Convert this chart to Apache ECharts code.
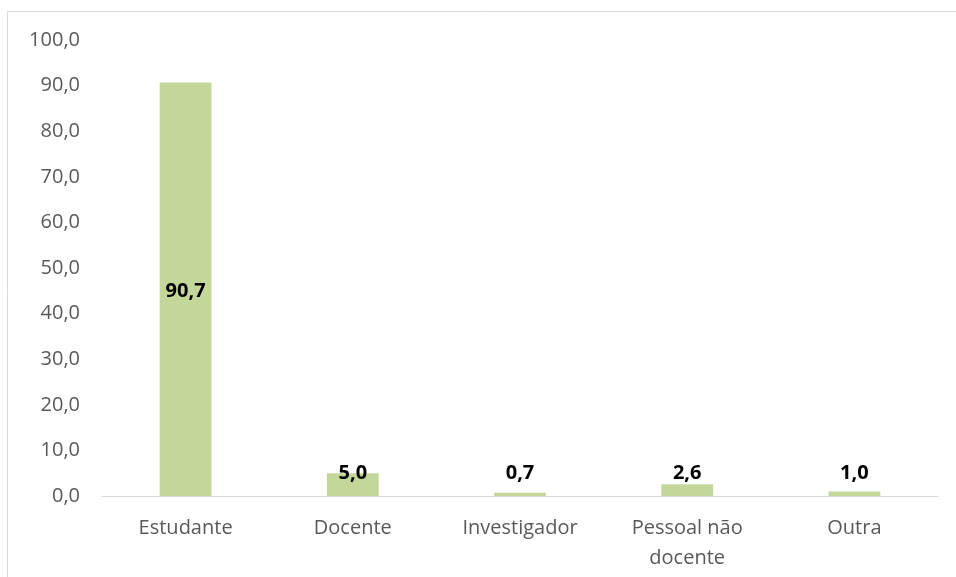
<!DOCTYPE html>
<html><head><meta charset="utf-8">
<script src="https://cdn.jsdelivr.net/npm/echarts@6/dist/echarts.min.js"></script>
<style>html,body{margin:0;padding:0;background:#fff;}#c{width:956px;height:577px;}</style>
</head><body><div id="c"></div>
<script>
const categories = ['Estudante', 'Docente', 'Investigador', 'Pessoal não\ndocente', 'Outra'];
const values = [90.7, 5.0, 0.7, 2.6, 1.0];
const yMin = 0, yMax = 100, yStep = 10;

const chart = echarts.init(document.getElementById('c'), null, {renderer: 'canvas'});
const fmt = v => v.toFixed(1).replace('.', ',');
const gridTop = 40, gridBottom = 81;
const plotH = 577 - gridTop - gridBottom;
const pxPerUnit = plotH / (yMax - yMin);
chart.setOption({
  animation: false,
  backgroundColor: '#fff',
  graphic: [{
    type: 'rect', shape: {x: 7.5, y: 11.5, width: 1000, height: 1000},
    style: {fill: 'none', stroke: '#d9d9d9', lineWidth: 1}, silent: true, z: -1
  }],
  grid: {left: 102, right: 18, top: gridTop, bottom: gridBottom},
  xAxis: {
    type: 'category', data: categories,
    axisLine: {lineStyle: {color: '#d9d9d9', width: 1}},
    axisTick: {show: false},
    axisLabel: {color: '#595959', fontFamily: 'Open Sans', fontSize: 20, margin: 17, lineHeight: 30, interval: 0}
  },
  yAxis: {
    type: 'value', min: yMin, max: yMax, interval: yStep,
    axisLine: {show: false}, axisTick: {show: false}, splitLine: {show: false},
    axisLabel: {color: '#595959', fontFamily: 'Open Sans', fontSize: 20, margin: 22, formatter: v => fmt(v)}
  },
  series: [{
    type: 'bar', barWidth: '31%',
    itemStyle: {color: '#c4d79b'},
    data: values.map((v, i) => ({
      value: v,
      label: i === 0 ? {position: 'inside', offset: [0, 2]} : {position: 'top', distance: 13 - v * pxPerUnit}
    })),
    label: {
      show: true, color: '#000', fontWeight: 'bold', fontSize: 20, fontFamily: 'Open Sans',
      formatter: p => fmt(p.value)
    }
  }]
});
</script></body></html>
